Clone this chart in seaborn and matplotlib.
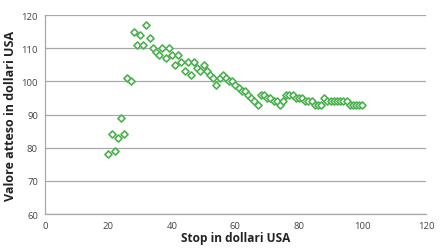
import matplotlib
matplotlib.use("Agg")
import matplotlib.pyplot as plt
import seaborn as sns
import pandas as pd

stop = list(range(20, 101))
valore = [78, 84, 79, 83, 89, 84, 101, 100, 115, 111,
          114, 111, 117, 113, 110, 109, 108, 110, 107, 110,
          108, 105, 108, 106, 103, 106, 102, 106, 104, 103,
          105, 103, 102, 101, 99, 101, 102, 101, 100, 100,
          99, 98, 97, 97, 96, 95, 94, 93, 96, 96,
          95, 95, 94, 94, 93, 94, 96, 96, 96, 95,
          95, 95, 94, 94, 94, 93, 93, 93, 95, 94,
          94, 94, 94, 94, 94, 94, 93, 93, 93, 93, 93]
x_ticks = [0, 20, 40, 60, 80, 100, 120]
y_ticks = [60, 70, 80, 90, 100, 110, 120]

df = pd.DataFrame({"Stop": stop, "Valore": valore})

sns.set_style("white")
plt.rcParams['font.family'] = ['Open Sans', 'DejaVu Sans']

fig = plt.figure(figsize=(4.4, 2.51), dpi=100)
ax = fig.add_axes([0.102, 0.143, 0.866, 0.793])

sns.scatterplot(data=df, x="Stop", y="Valore", ax=ax, marker="D", s=13,
                facecolor="white", edgecolor="#4cb050", linewidth=1.2, zorder=3)

ax.set_xlim(0, 120)
ax.set_ylim(60, 120)
ax.set_xticks(x_ticks)
ax.set_yticks(y_ticks)
ax.yaxis.grid(True, color="#a8a8a8", linewidth=0.9)
ax.xaxis.grid(False)
for s in ["top", "right"]:
    ax.spines[s].set_visible(False)
for s in ["left", "bottom"]:
    ax.spines[s].set_color("#a8a8a8")
    ax.spines[s].set_linewidth(0.9)
ax.tick_params(axis="both", which="both", direction="out", length=3, width=0.8,
               color="#a8a8a8", labelsize=6.8, labelcolor="#444444", pad=2)
ax.set_xlabel("Stop in dollari USA", fontsize=8.6, fontweight="bold", color="#222222", labelpad=1)
ax.set_ylabel("Valore atteso in dollari USA", fontsize=9, fontweight="bold", color="#222222", labelpad=3)

fig.savefig("out.png", dpi=100)
